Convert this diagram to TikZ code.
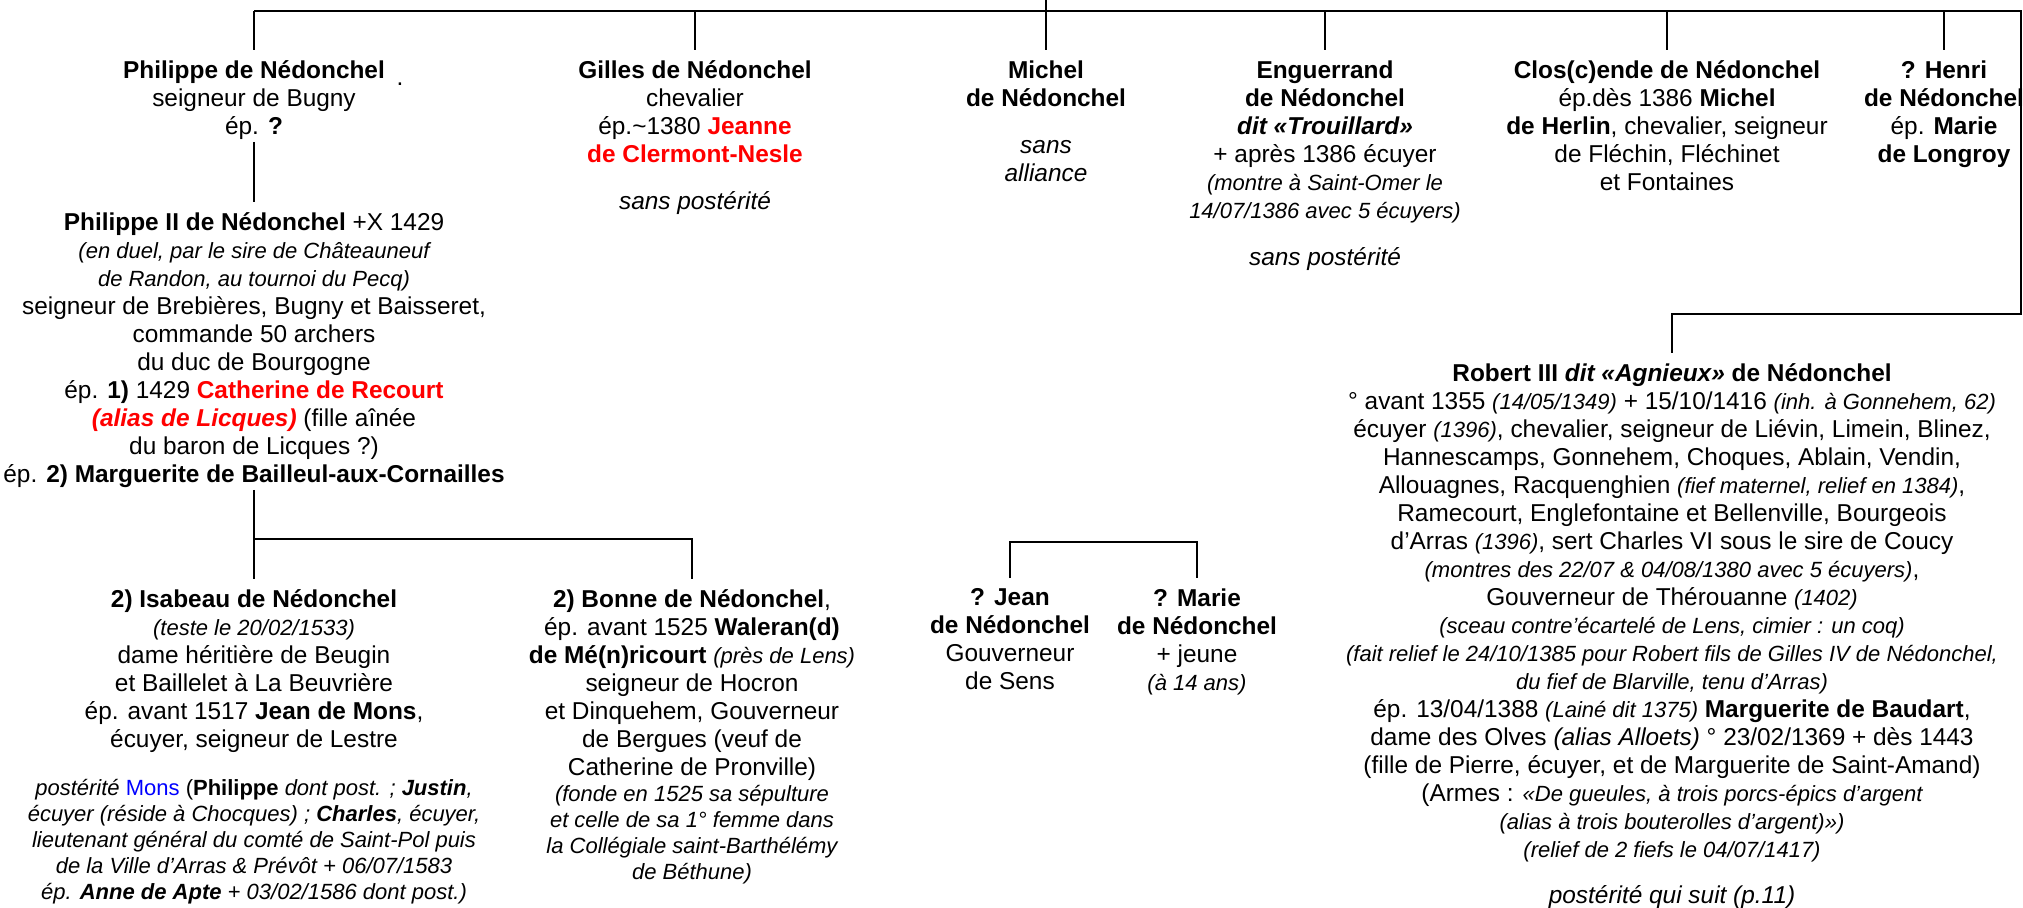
\documentclass[tikz,border=0pt]{standalone}
\usepackage{fontspec}
\setmainfont{Liberation Sans}
\usepackage{tikz}
\newcommand{\petit}[1]{{\fontsize{11}{13}\selectfont\itshape #1}}

\begin{document}
\begin{tikzpicture}[x=0.5pt, y=-0.5pt, font=\fontsize{12.2}{14}\selectfont,
    person/.style={anchor=north, align=center, inner xsep=0pt, inner ysep=5pt},
    link/.style={line width=1.4pt}]
  \useasboundingbox (0,0) rectangle (2023,908);
  \coordinate (topedge) at (0,0);
  \coordinate (bar) at (0,11);
  \coordinate (edge) at (2021,11);
  \coordinate (robbar) at (0,314);
  \coordinate (split) at (0,539);
  \coordinate (jmbar) at (0,542);

  % first generation
  \node [person] (philippe) at (254,50) {\textbf{Philippe de Nédonchel}\\ seigneur de Bugny\\ ép. \textbf{?}};
  \node (dot) at (400,84) {.};
  \node [person] (gilles) at (695,50) {\textbf{Gilles de Nédonchel}\\ chevalier\\
    ép.\textasciitilde1380 \textcolor{red}{\textbf{Jeanne}}\\ \textcolor{red}{\textbf{de Clermont-Nesle}}\\[9.5pt]
    \textit{sans postérité}};
  \node [person] (michel) at (1046,50) {\textbf{Michel}\\ \textbf{de Nédonchel}\\[9.5pt] \textit{sans}\\ \textit{alliance}};
  \node [person] (enguerrand) at (1325,50) {\textbf{Enguerrand}\\ \textbf{de Nédonchel}\\ \textbf{\textit{dit «Trouillard»}}\\
    + après 1386 écuyer\\ \petit{(montre à Saint-Omer le}\\ \petit{14/07/1386 avec 5 écuyers)}\\[9.5pt]
    \textit{sans postérité}};
  \node [person] (closcende) at (1667,50) {\textbf{Clos(c)ende de Nédonchel}\\ ép.dès 1386 \textbf{Michel}\\
    \textbf{de Herlin}, chevalier, seigneur\\ de Fléchin, Fléchinet\\ et Fontaines};
  \node [person] (henri) at (1944,50) {\textbf{? Henri}\\ \textbf{de Nédonchel}\\ ép. \textbf{Marie}\\ \textbf{de Longroy}};

  % Philippe II
  \node [person] (philippeII) at (254,202) {\textbf{Philippe II de Nédonchel} +X 1429\\
    \petit{(en duel, par le sire de Châteauneuf}\\ \petit{de Randon, au tournoi du Pecq)}\\
    seigneur de Brebières, Bugny et Baisseret,\\ commande 50 archers\\ du duc de Bourgogne\\
    ép. \textbf{1)} 1429 \textcolor{red}{\textbf{Catherine de Recourt}}\\
    \textcolor{red}{\textbf{\textit{(alias de Licques)}}} (fille aînée\\ du baron de Licques ?)\\
    ép. \textbf{2) Marguerite de Bailleul-aux-Cornailles}};

  % Robert III
  \node [person] (robert) at (1672,353) {\textbf{Robert III \textit{dit «Agnieux»} de Nédonchel}\\
    ° avant 1355 \petit{(14/05/1349)} + 15/10/1416 \petit{(inh. à Gonnehem, 62)}\\
    écuyer \petit{(1396)}, chevalier, seigneur de Liévin, Limein, Blinez,\\
    Hannescamps, Gonnehem, Choques, Ablain, Vendin,\\
    Allouagnes, Racquenghien \petit{(fief maternel, relief en 1384)},\\
    Ramecourt, Englefontaine et Bellenville, Bourgeois\\
    d’Arras \petit{(1396)}, sert Charles VI sous le sire de Coucy\\
    \petit{(montres des 22/07 \& 04/08/1380 avec 5 écuyers)},\\
    Gouverneur de Thérouanne \petit{(1402)}\\
    \petit{(sceau contre’écartelé de Lens, cimier : un coq)}\\
    \petit{(fait relief le 24/10/1385 pour Robert fils de Gilles IV de Nédonchel,}\\
    \petit{du fief de Blarville, tenu d’Arras)}\\
    ép. 13/04/1388 \petit{(Lainé dit 1375)} \textbf{Marguerite de Baudart},\\
    dame des Olves \textit{(alias Alloets)} ° 23/02/1369 + dès 1443\\
    (fille de Pierre, écuyer, et de Marguerite de Saint-Amand)\\
    (Armes : \petit{«De gueules, à trois porcs-épics d’argent}\\
    \petit{(alias à trois bouterolles d’argent)»)}\\
    \petit{(relief de 2 fiefs le 04/07/1417)}\\[9pt]
    \textit{postérité qui suit (p.11)}};

  % third generation
  \node [person] (isabeau) at (254,579) {\textbf{2) Isabeau de Nédonchel}\\ \petit{(teste le 20/02/1533)}\\
    dame héritière de Beugin\\ et Baillelet à La Beuvrière\\
    ép. avant 1517 \textbf{Jean de Mons},\\ écuyer, seigneur de Lestre\\[10pt]
    \petit{postérité \textcolor{blue}{\upshape Mons} {\upshape(}\textbf{\upshape Philippe} dont post. ; \textbf{Justin},}\\[-1pt]
    \petit{écuyer (réside à Chocques) ; \textbf{Charles}, écuyer,}\\[-1pt]
    \petit{lieutenant général du comté de Saint-Pol puis}\\[-1pt]
    \petit{de la Ville d'Arras \& Prévôt + 06/07/1583}\\[-1pt]
    \petit{ép. \textbf{Anne de Apte} + 03/02/1586 dont post.)}};
  \node [person] (bonne) at (692,579) {\textbf{2) Bonne de Nédonchel},\\ ép. avant 1525 \textbf{Waleran(d)}\\
    \textbf{de Mé(n)ricourt} \petit{(près de Lens)}\\ seigneur de Hocron\\ et Dinquehem, Gouverneur\\
    de Bergues (veuf de\\ Catherine de Pronville)\\[-1pt]
    \petit{(fonde en 1525 sa sépulture}\\[-1pt] \petit{et celle de sa 1° femme dans}\\[-1pt]
    \petit{la Collégiale saint-Barthélémy}\\[-1pt] \petit{de Béthune)}};
  \node [person] (jean) at (1010,578) {\textbf{? Jean}\\ \textbf{de Nédonchel}\\ Gouverneur\\ de Sens};
  \node [person] (marie) at (1197,578) {\textbf{? Marie}\\ \textbf{de Nédonchel}\\ + jeune\\ \petit{(à 14 ans)}};

  % connectors
  \draw [link] (philippe.north |- bar) -- (edge) |- (robert.north |- robbar) -- (robert.north);
  \draw [link] (michel.north |- topedge) -- (michel.north);
  \foreach \child in {philippe, gilles, enguerrand, closcende, henri}
    \draw [link] (\child.north |- bar) -- (\child.north);
  \draw [link] ([yshift=4pt]philippe.south) -- (philippeII.north);
  \draw [link] ([yshift=4pt]philippeII.south) -- (isabeau.north);
  \draw [link] (isabeau.north |- split) -| (bonne.north);
  \draw [link] (jean.north) -- (jean.north |- jmbar) -| (marie.north);
\end{tikzpicture}
\end{document}
